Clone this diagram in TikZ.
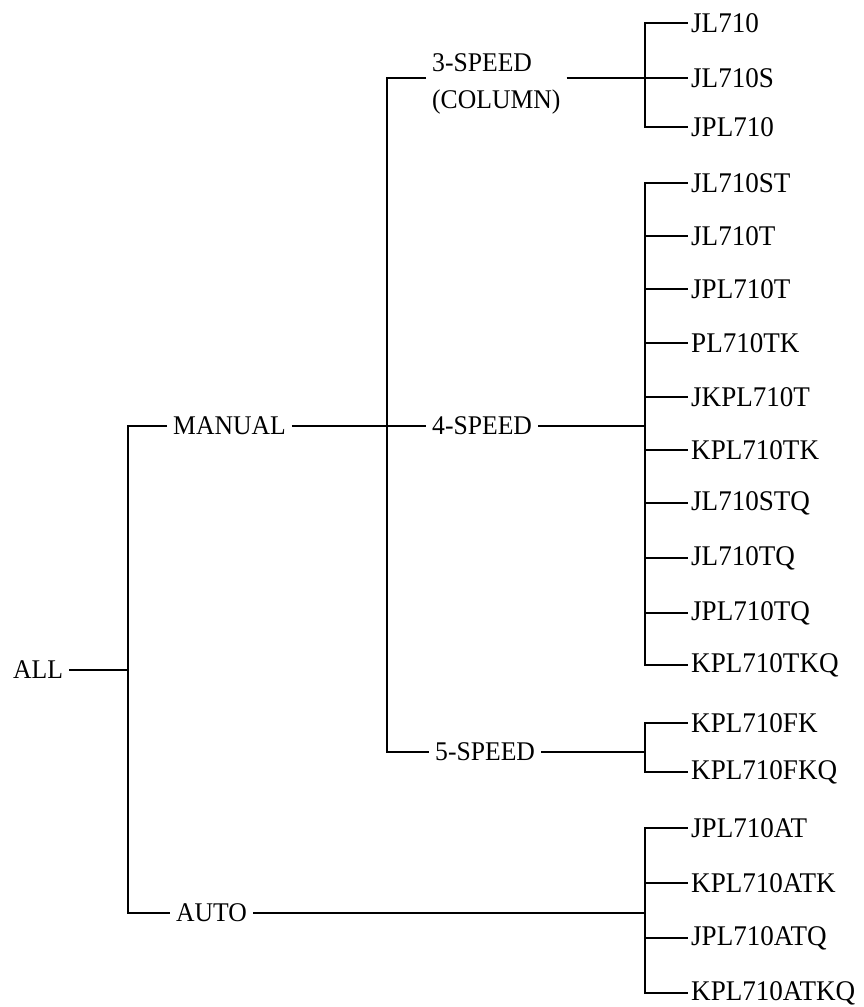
\documentclass[tikz,border=0pt]{standalone}
\usepackage{fontspec}
\setmainfont{Liberation Serif}[FakeStretch=0.95]

\tikzstyle{stem}=[
    anchor=west,
    inner sep=6pt,
    font=\fontsize{27}{37}\selectfont,
  ]
\tikzstyle{leaf}=[
    anchor=west,
    inner sep=3pt,
    font=\fontsize{28.5}{33}\selectfont,
  ]
\tikzstyle{link}=[
    line width=1.3pt,
  ]

\begin{document}
\begin{tikzpicture}[x=1pt, y=-1pt]
      \useasboundingbox (0,0) rectangle (863,1007);
      \node[stem] (all) at (7,670) {ALL};
      \node[stem] (manual) at (167,426) {MANUAL};
      \node[stem] (auto) at (170,913) {AUTO};
      \node[stem, align=left] (speed3) at (426,84) {3-SPEED\\(COLUMN)};
      \node[stem] (speed4) at (426,426) {4-SPEED};
      \node[stem] (speed5) at (429,752) {5-SPEED};
      \coordinate (root) at (128,670);
      \coordinate (split) at (387,426);
      \coordinate (bus3) at (645,78);
      \coordinate (bus4) at (645,426);
      \coordinate (bus5) at (645,752);
      \coordinate (busA) at (645,913);
      \draw[link] (all) -- (root);
      \draw[link] (manual.west) -| (root) |- (auto.west);
      \draw[link] (manual) -- (speed4);
      \draw[link] ([yshift=6pt]speed3.west) -| (split) |- (speed5.west);
      \draw[link] ([yshift=6pt]speed3.east) -- (bus3);
      \draw[link] (speed4) -- (bus4);
      \draw[link] (speed5) -- (bus5);
      \draw[link] (auto) -- (busA);
      \foreach \name/\y in {JL710/23, JL710S/78, JPL710/127} {%
        \node[leaf] (\name) at (688,\y) {\name};
        \draw[link] (bus3) |- (\name.west);
      }
      \foreach \name/\y in {JL710ST/183, JL710T/236, JPL710T/289, PL710TK/343,
          JKPL710T/397, KPL710TK/450, JL710STQ/503, JL710TQ/558, JPL710TQ/613,
          KPL710TKQ/665} {%
        \node[leaf] (\name) at (688,\y) {\name};
        \draw[link] (bus4) |- (\name.west);
      }
      \foreach \name/\y in {KPL710FK/723, KPL710FKQ/772} {%
        \node[leaf] (\name) at (688,\y) {\name};
        \draw[link] (bus5) |- (\name.west);
      }
      \foreach \name/\y in {JPL710AT/828, KPL710ATK/883, JPL710ATQ/938,
          KPL710ATKQ/993} {%
        \node[leaf] (\name) at (688,\y) {\name};
        \draw[link] (busA) |- (\name.west);
      }
    \end{tikzpicture}
\end{document}
